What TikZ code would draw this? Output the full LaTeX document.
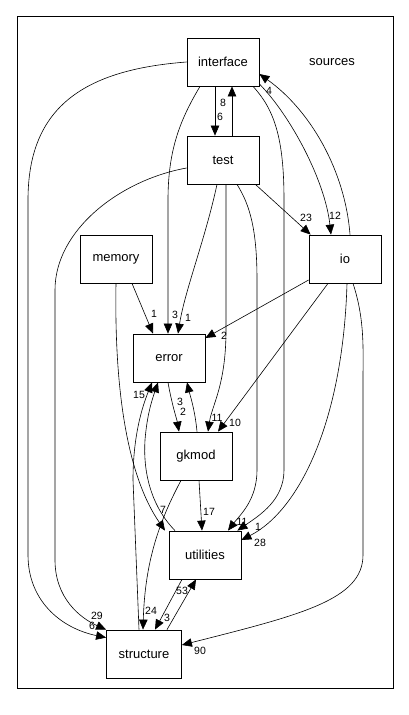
\documentclass[tikz,border=0pt]{standalone}
\usepackage{fontspec}
\setmainfont{Liberation Sans}
\usetikzlibrary{arrows.meta}
\begin{document}
\begin{tikzpicture}[x=1pt,y=-1pt,
  box/.style={draw,line width=0.8pt,minimum width=72pt,minimum height=48pt,inner sep=0pt,font=\fontsize{13}{15}\selectfont},
  dep/.style={-{Triangle[length=10pt,width=8.5pt]},line width=0.6pt},
  lbl/.style={inner sep=0pt,font=\fontsize{10.5}{12}\selectfont}]
\useasboundingbox(0,0)rectangle(408,715);
\draw[line width=0.8pt](17,16)rectangle(393,688);
\node(src)at(332,62){\fontsize{13}{15}\selectfont sources};
\node[box](intf)at(223,62){interface};
\node[box](test)at(223,160){test};
\node[box](io)at(345,259){io};
\node[box](mem)at(116,259){memory};
\node[box](err)at(169,358){error};
\node[box](gk)at(196,456){gkmod};
\node[box](util)at(205,555){utilities};
\node[box,minimum width=75pt](str)at(144,654){structure};
\draw[dep]([xshift=-8pt]intf.south)--([xshift=-8pt]test.north)node[lbl]at(220,117){6};
\draw[dep]([xshift=9pt]test.north)--([xshift=9pt]intf.south)node[lbl]at(223,103){8};
\draw[dep](intf.west)..controls(80,70)and(28,110)..(28,200)--(28,555)..controls(28,600)and(60,628)..([yshift=-8pt]str.north west)node[lbl]at(92,626){6};
\draw[dep]([yshift=-8pt]test.west)..controls(120,180)and(55,230)..(55,290)--(55,560)..controls(55,598)and(80,618)..(str.north west)node[lbl]at(97,616){29};
\draw[dep]([xshift=-23pt]intf.south)..controls(180,120)and(168,150)..(168,200)--([xshift=-1pt]err.north)node[lbl]at(175,315){3};
\draw[dep]([xshift=30pt]intf.south)..controls(275,110)and(284,140)..(284,200)--(284,470)..controls(284,500)and(260,515)..([xshift=-4pt]util.north east)node[lbl]at(258,527){1};
\draw[dep]([xshift=14pt]test.south)..controls(250,205)and(257,230)..(257,280)--(257,470)..controls(257,500)and(240,515)..([xshift=23pt]util.north)node[lbl]at(242,522){11};
\draw[dep]([yshift=-22pt]intf.east)..controls(290,115)and(325,180)..([xshift=-14pt]io.north)node[lbl]at(335,216){12};
\draw[dep]([xshift=5pt]io.north)..controls(345,170)and(310,110)..([yshift=-12pt]intf.east)node[lbl]at(269,91){4};
\draw[dep]([xshift=-4pt]test.south east)--([xshift=2pt]io.north west)node[lbl]at(306,218){23};
\draw[dep]([xshift=-6pt]test.south)..controls(205,240)and(185,290)..([xshift=9pt]err.north)node[lbl]at(188,318){1};
\draw[dep]([xshift=3pt]test.south)--(226,330)..controls(226,385)and(212,405)..([xshift=12pt]gk.north)node[lbl]at(217,418){11};
\draw[dep]([xshift=16pt]mem.south)--([xshift=-16pt]err.north)node[lbl]at(154,314){1};
\draw[dep](mem.south)..controls(114,400)and(130,480)..([xshift=-40pt]util.north)node[lbl]at(163,510){7};
\draw[dep]([xshift=-5pt]str.north)--(133,480)..controls(133,430)and(145,400)..([xshift=-17pt]err.south)node[lbl]at(139,395){15};
\draw[dep]([xshift=-30pt]util.north)..controls(150,505)and(143,470)..(145,440)..controls(147,415)and(152,400)..([xshift=-11pt]err.south);
\draw[dep]([xshift=-1pt]err.south)..controls(172,405)and(177,420)..([xshift=-17pt]gk.north)node[lbl]at(180,402){3};
\draw[dep]([xshift=1pt]gk.north)..controls(195,410)and(190,395)..([xshift=18pt]err.south)node[lbl]at(183,412){2};
\draw[dep]([yshift=-21pt]io.west)--([yshift=20pt]err.east)node[lbl]at(224,336){2};
\draw[dep]([xshift=-17pt]io.south)--([xshift=22pt]gk.north)node[lbl]at(235,423){10};
\draw[dep]([xshift=2pt]io.south)..controls(343,420)and(300,510)..([yshift=15pt]util.east)node[lbl]at(260,543){28};
\draw[dep]([xshift=8pt]io.south)..controls(365,320)and(363,350)..(363,380)--(363,555)..controls(363,600)and(300,615)..([yshift=9pt]str.east)node[lbl]at(200,651){90};
\draw[dep]([xshift=3pt]gk.south)--([xshift=-3pt]util.north)node[lbl]at(209,512){17};
\draw[dep]([xshift=-15pt]gk.south)..controls(160,520)and(145,560)..([xshift=-1pt]str.north)node[lbl]at(151,611){24};
\draw[dep]([xshift=-23pt]util.south)--([xshift=11pt]str.north)node[lbl]at(167,618){3};
\draw[dep]([xshift=23pt]str.north)--([xshift=-9pt]util.south)node[lbl]at(182,591){53};
\end{tikzpicture}
\end{document}
